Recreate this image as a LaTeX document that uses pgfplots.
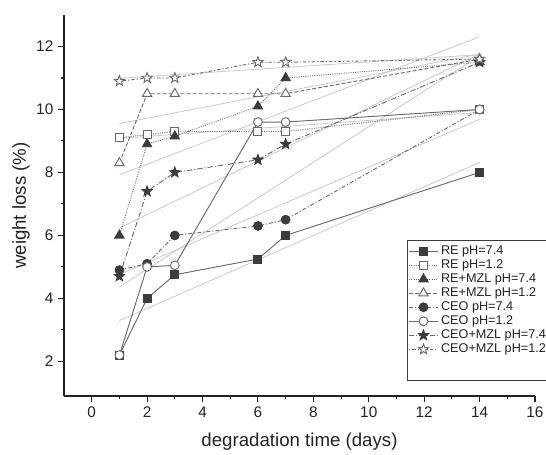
\documentclass[border=0pt]{standalone}
\usepackage{pgfplots}
\usepackage{pgfplotstable}
\pgfplotsset{compat=1.18}
\usepackage{fontspec}
\setmainfont{Liberation Sans}
\definecolor{linecol}{RGB}{105,105,105}
\definecolor{markcol}{RGB}{60,60,60}
\definecolor{regcol}{RGB}{200,200,200}
\definecolor{txtcol}{RGB}{35,35,35}

\pgfdeclareplotmark{fstar}{%
  \pgfpathmoveto{\pgfpointpolar{90}{\pgfplotmarksize}}%
  \pgfpathlineto{\pgfpointpolar{126}{0.42\pgfplotmarksize}}%
  \pgfpathlineto{\pgfpointpolar{162}{\pgfplotmarksize}}%
  \pgfpathlineto{\pgfpointpolar{198}{0.42\pgfplotmarksize}}%
  \pgfpathlineto{\pgfpointpolar{234}{\pgfplotmarksize}}%
  \pgfpathlineto{\pgfpointpolar{270}{0.42\pgfplotmarksize}}%
  \pgfpathlineto{\pgfpointpolar{306}{\pgfplotmarksize}}%
  \pgfpathlineto{\pgfpointpolar{342}{0.42\pgfplotmarksize}}%
  \pgfpathlineto{\pgfpointpolar{18}{\pgfplotmarksize}}%
  \pgfpathlineto{\pgfpointpolar{54}{0.42\pgfplotmarksize}}%
  \pgfpathclose
  \pgfusepathqfillstroke}

\pgfplotstableread{
x y
1 2.2
2 4.0
3 4.75
6 5.25
7 6.0
14 8.0
}\REa
\pgfplotstableread{
x y
1 9.1
2 9.2
3 9.3
6 9.3
7 9.3
14 10.0
}\REb
\pgfplotstableread{
x y
1 6.0
2 8.9
3 9.15
6 10.1
7 11.0
14 11.5
}\REMa
\pgfplotstableread{
x y
1 8.3
2 10.5
3 10.5
6 10.5
7 10.5
14 11.6
}\REMb
\pgfplotstableread{
x y
1 4.9
2 5.1
3 6.0
6 6.3
7 6.5
14 10.0
}\CEOa
\pgfplotstableread{
x y
1 2.2
2 5.0
3 5.05
6 9.6
7 9.6
14 10.0
}\CEOb
\pgfplotstableread{
x y
1 4.7
2 7.4
3 8.0
6 8.4
7 8.9
14 11.5
}\CEOMa
\pgfplotstableread{
x y
1 10.9
2 11.0
3 11.0
6 11.5
7 11.5
14 11.6
}\CEOMb

\begin{document}
\begin{tikzpicture}
\useasboundingbox (-48pt,-43.5pt) rectangle (361.5pt,297pt);
\begin{axis}[
  at={(0,0)}, anchor=south west,
  scale only axis,
  width=353.25pt, height=285.75pt,
  xmin=-1, xmax=16, ymin=0.9, ymax=13,
  axis x line*=bottom, axis y line*=left,
  axis line style={line width=0.8pt, txtcol},
  xtick={0,2,...,16}, ytick={2,4,...,12},
  minor x tick num=1, minor y tick num=1,
  tick align=outside,
  major tick length=4.5pt, minor tick length=2.5pt,
  tick style={line width=0.8pt, txtcol},
  ticklabel style={font=\fontsize{11.5}{12}\selectfont, text=txtcol},
  /pgf/number format/assume math mode=true,
  xlabel={degradation time (days)},
  ylabel={weight loss (\%)},
  label style={font=\fontsize{14}{15}\selectfont, text=txtcol},
  xlabel style={yshift=-5pt},
  ylabel style={yshift=-2pt},
  legend style={at={(0.728,0.409)}, anchor=north west, draw=markcol,
    line width=0.6pt, font=\fontsize{9.5}{10}\selectfont, text=txtcol,
    row sep=-1.6pt, inner xsep=1pt, inner ysep=2pt},
  legend cell align=left,
  legend image code/.code={%
    \draw[mark repeat=2,mark phase=2] plot coordinates {(0cm,0cm) (0.38cm,0cm) (0.76cm,0cm)};},
]
% linear fits
\addplot[regcol, line width=0.6pt, forget plot] table[x=x, y={create col/linear regression={y=y}}] {\REa};
\addplot[regcol, line width=0.6pt, forget plot] table[x=x, y={create col/linear regression={y=y}}] {\REb};
\addplot[regcol, line width=0.6pt, forget plot] table[x=x, y={create col/linear regression={y=y}}] {\REMa};
\addplot[regcol, line width=0.6pt, forget plot] table[x=x, y={create col/linear regression={y=y}}] {\REMb};
\addplot[regcol, line width=0.6pt, forget plot] table[x=x, y={create col/linear regression={y=y}}] {\CEOa};
\addplot[regcol, line width=0.6pt, forget plot] table[x=x, y={create col/linear regression={y=y}}] {\CEOb};
\addplot[regcol, line width=0.6pt, forget plot] table[x=x, y={create col/linear regression={y=y}}] {\CEOMa};
\addplot[regcol, line width=0.6pt, forget plot] table[x=x, y={create col/linear regression={y=y}}] {\CEOMb};
% data
\addplot[linecol, line width=0.7pt, mark=square*, mark size=3pt,
  mark options={solid, fill=markcol, draw=markcol}] table[x=x,y=y] {\REa};
\addlegendentry{RE pH=7.4}
\addplot[linecol, line width=0.7pt, densely dotted, mark=square*, mark size=3pt,
  mark options={solid, fill=white, draw=linecol}] table[x=x,y=y] {\REb};
\addlegendentry{RE pH=1.2}
\addplot[linecol, line width=0.7pt, densely dotted, mark=triangle*, mark size=4pt,
  mark options={solid, fill=markcol, draw=markcol}] table[x=x,y=y] {\REMa};
\addlegendentry{RE+MZL pH=7.4}
\addplot[linecol, line width=0.7pt, dash pattern=on 3pt off 1.5pt, mark=triangle*, mark size=4pt,
  mark options={solid, fill=white, draw=linecol}] table[x=x,y=y] {\REMb};
\addlegendentry{RE+MZL pH=1.2}
\addplot[linecol, line width=0.7pt, dash pattern=on 3pt off 1.5pt on 0.8pt off 1.5pt, mark=*, mark size=3.3pt,
  mark options={solid, fill=markcol, draw=markcol}] table[x=x,y=y] {\CEOa};
\addlegendentry{CEO pH=7.4}
\addplot[linecol, line width=0.7pt, mark=*, mark size=3.3pt,
  mark options={solid, fill=white, draw=linecol}] table[x=x,y=y] {\CEOb};
\addlegendentry{CEO pH=1.2}
\addplot[linecol, line width=0.7pt, dash pattern=on 4pt off 1.5pt on 0.8pt off 1.5pt, mark=fstar, mark size=4pt,
  mark options={solid, fill=markcol, draw=markcol}] table[x=x,y=y] {\CEOMa};
\addlegendentry{CEO+MZL pH=7.4}
\addplot[linecol, line width=0.7pt, dash pattern=on 1pt off 1.5pt on 2.5pt off 1.5pt, mark=fstar, mark size=4pt,
  mark options={solid, fill=white, draw=linecol}] table[x=x,y=y] {\CEOMb};
\addlegendentry{CEO+MZL pH=1.2}
\addlegendimage{empty legend}
\addlegendentry{\rule{0pt}{11pt}}
\end{axis}
\end{tikzpicture}
\end{document}
